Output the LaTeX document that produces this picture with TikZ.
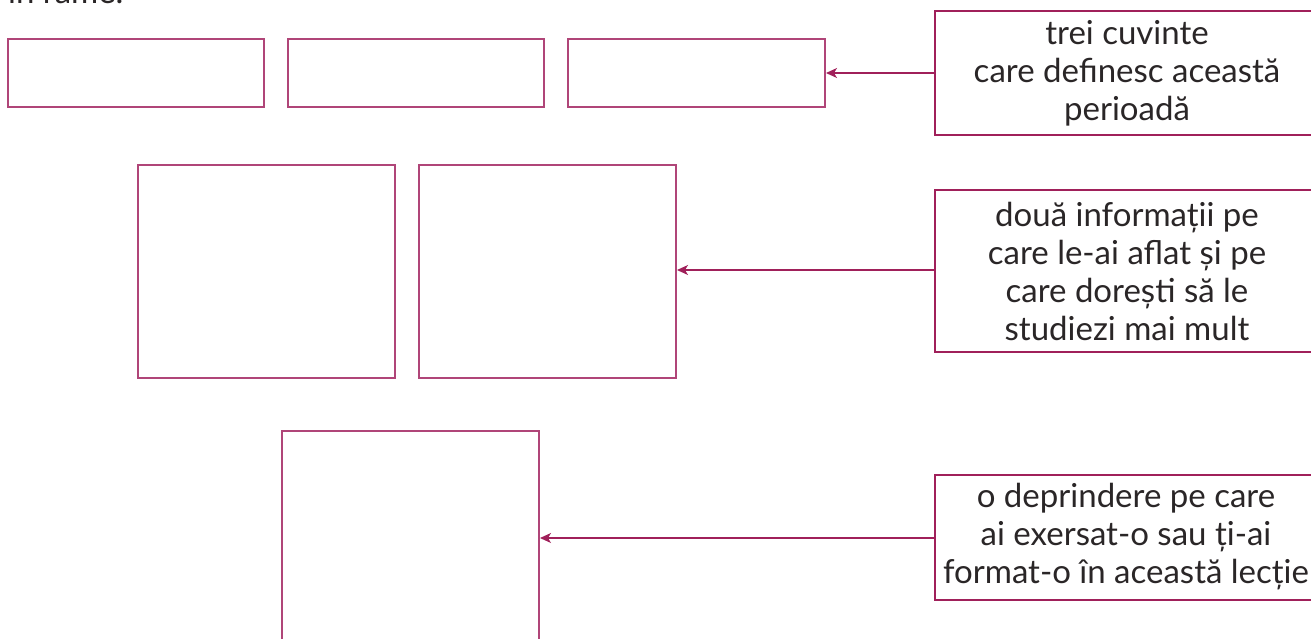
\documentclass[tikz,border=0pt]{standalone}
\usepackage{fontspec}
\setmainfont{Lato}
\usetikzlibrary{arrows.meta}
\definecolor{mag}{HTML}{A0205A}
\definecolor{magl}{HTML}{B04578}
\definecolor{txt}{HTML}{2A2627}
\begin{document}
\begin{tikzpicture}[x=1pt,y=-1pt,
  emptybox/.style={draw=magl,line width=1.3pt},
  labelbox/.style={draw=mag,line width=2.8pt,text=txt,align=center,font=\fontsize{33}{38}\selectfont},
  conn/.style={draw=mag,line width=1.3pt,-{Stealth[length=11pt,width=10pt,inset=3pt]}}]
\useasboundingbox (0,0) rectangle (1311,638);
\node[anchor=base west,text=txt,font=\fontsize{33}{38}\selectfont,inner sep=0pt] (frag) at (8,3) {în rame.};
% row 1
\draw[emptybox] (8,39) rectangle (264,107);
\draw[emptybox] (288,39) rectangle (544,107);
\draw[emptybox] (568,39) rectangle (825,107);
\coordinate (b1) at (826,73);
\draw[labelbox] (935,11) rectangle (1330,135);
\node[labelbox,draw=none] (l1) at (1127,73) {trei cuvinte\\care definesc această\\perioadă};
\coordinate (l1w) at (935,73);
\draw[conn] (l1w) -- (b1);
% row 2
\draw[emptybox] (138,165) rectangle (395,378);
\draw[emptybox] (419,165) rectangle (676,378);
\coordinate (b2) at (677,270);
\draw[labelbox] (935,190) rectangle (1330,352);
\node[labelbox,draw=none] (l2) at (1127,271) {două informații pe\\care le-ai aflat și pe\\care dorești să le\\studiezi mai mult};
\coordinate (l2w) at (935,270);
\draw[conn] (l2w) -- (b2);
% row 3
\draw[emptybox] (282,431) rectangle (539,660);
\coordinate (b3) at (540,538);
\draw[labelbox] (935,475) rectangle (1330,600);
\node[labelbox,draw=none] (l3) at (1126,537) {o deprindere pe care\\ai exersat-o sau ți-ai\\format-o în această lecție};
\coordinate (l3w) at (935,538);
\draw[conn] (l3w) -- (b3);
\end{tikzpicture}
\end{document}
